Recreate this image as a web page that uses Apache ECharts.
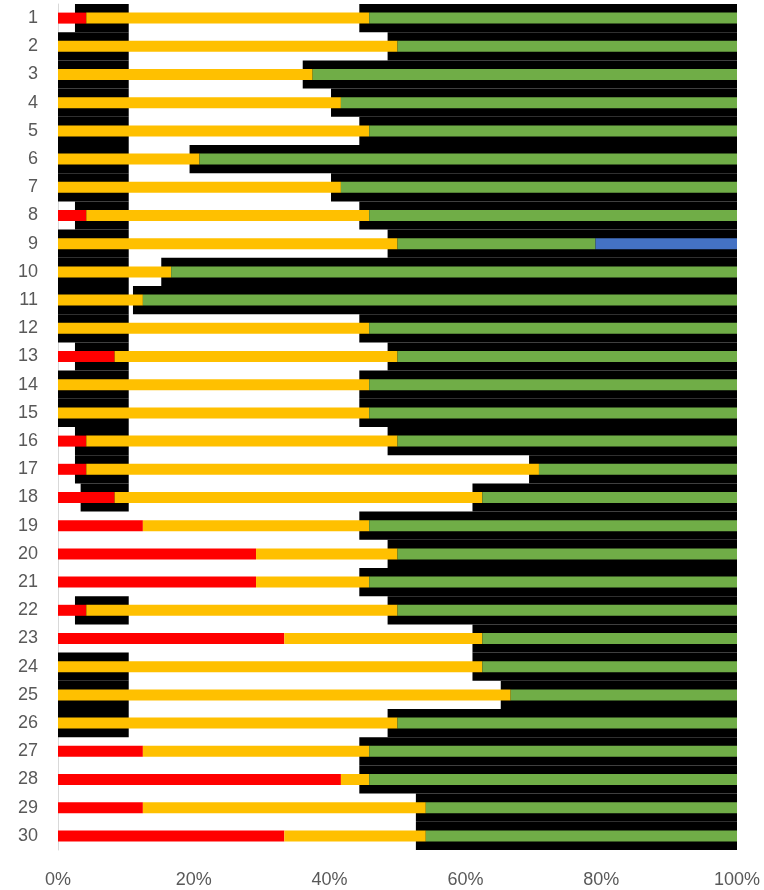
<!DOCTYPE html>
<html>
<head>
<meta charset="utf-8">
<script src="https://cdn.jsdelivr.net/npm/echarts@6/dist/echarts.min.js"></script>
<style>
  html, body { margin: 0; padding: 0; background: #fff; }
  #chart { width: 764px; height: 890px; }
</style>
</head>
<body>
<div id="chart"></div>
<script>
// counts out of 24 per row
const rows = ['1','2','3','4','5','6','7','8','9','10','11','12','13','14','15','16','17','18','19','20','21','22','23','24','25','26','27','28','29','30']
const red    = [1,0,0,0,0,0,0,1,0,0,0,0,2,0,0,1,1,2,3,7,7,1,8,0,0,0,3,10,3,8]
const yellow = [10,12,9,10,11,5,10,10,12,4,3,11,10,11,11,11,16,13,8,5,4,11,7,15,16,12,8,1,10,5]
const green  = [13,12,15,14,13,19,14,13,7,20,21,13,12,13,13,12,7,9,13,12,13,12,9,9,8,12,13,13,11,11]
const blue   = [0,0,0,0,0,0,0,0,5,0,0,0,0,0,0,0,0,0,0,0,0,0,0,0,0,0,0,0,0,0]
const total = 24
const xTicks = ['0%','20%','40%','60%','80%','100%']

// black shading behind the bars (artifact in the source image)
const leftShadeStart = [0.6,0,0,0,0,0,0,0.6,0,0,0,0,0.6,0,0,0.6,0.6,0.8,null,null,null,0.6,null,0,0,0,null,null,null,null]
const leftShadeEnd = 2.5
const rightShift = 0.35

const shadeOffset = [], shadeLeft = [], shadeGap = [], shadeRight = []
rows.forEach((r, i) => {
  const s = leftShadeStart[i]
  const rs = red[i] + yellow[i] - rightShift
  if (s === null) {
    shadeOffset.push(0); shadeLeft.push(0); shadeGap.push(rs)
  } else {
    shadeOffset.push(s); shadeLeft.push(leftShadeEnd - s); shadeGap.push(Math.max(0, rs - leftShadeEnd))
  }
  shadeRight.push(total - rs)
})

const chart = echarts.init(document.getElementById('chart'))
const font = 'Liberation Sans'

function bar(name, data, color) {
  return {
    name, type: 'bar', stack: 'main', yAxisIndex: 0, barWidth: 11,
    data, itemStyle: { color }, z: 3, silent: true
  }
}
function shade(name, data, color) {
  return {
    name, type: 'bar', stack: 'shade', yAxisIndex: 1, barWidth: '100%',
    data, itemStyle: { color }, z: 1, silent: true
  }
}

chart.setOption({
  animation: false,
  grid: { left: 58, right: 27, top: 4, bottom: 40 },
  xAxis: {
    type: 'value', min: 0, max: total, interval: total / 5,
    axisLine: { show: false }, axisTick: { show: false }, splitLine: { show: false },
    axisLabel: {
      margin: 21, color: '#595959', fontSize: 18, fontFamily: font,
      formatter: v => xTicks[Math.round(v / (total / 5))]
    }
  },
  yAxis: [{
    type: 'category', data: rows, inverse: true,
    axisLine: { show: true, lineStyle: { color: '#d9d9d9', width: 1 } },
    axisTick: { show: false },
    axisLabel: { margin: 20, color: '#595959', fontSize: 18, fontFamily: font }
  }, {
    type: 'category', data: rows, inverse: true, show: false
  }],
  series: [
    shade('o', shadeOffset, 'transparent'),
    shade('l', shadeLeft, '#000'),
    shade('g', shadeGap, 'transparent'),
    shade('r', shadeRight, '#000'),
    bar('red', red, '#ff0000'),
    bar('yellow', yellow, '#ffc000'),
    bar('green', green, '#70ad47'),
    bar('blue', blue, '#4472c4')
  ]
})
</script>
</body>
</html>
